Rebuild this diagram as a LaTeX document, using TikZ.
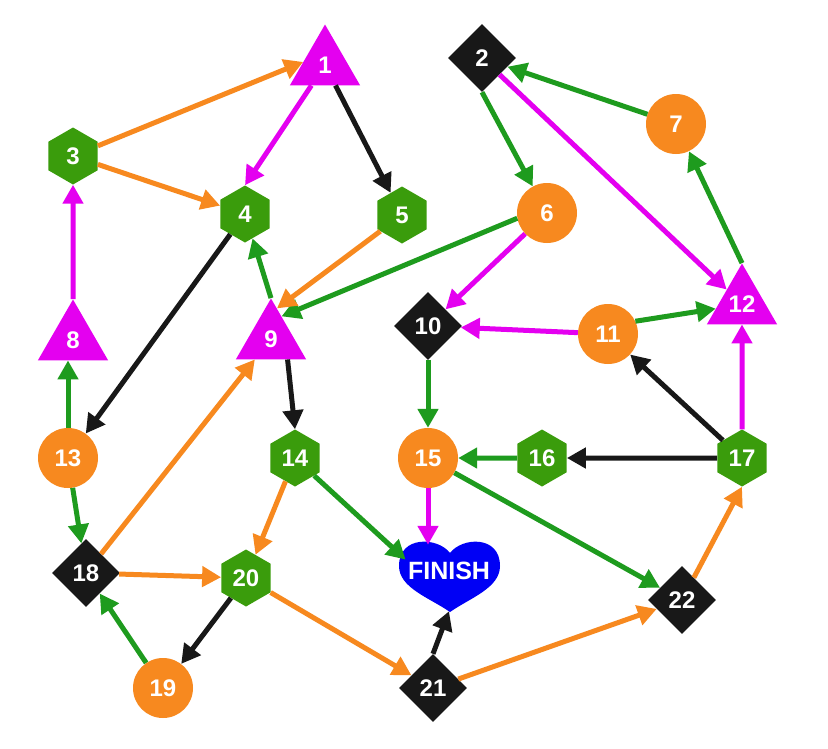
\documentclass[tikz,border=0pt]{standalone}
\usepackage{fontspec}
\setmainfont{Liberation Sans}
\usetikzlibrary{shapes.geometric,arrows.meta}
\definecolor{hexgreen}{RGB}{58,156,12}
\definecolor{linkgreen}{RGB}{30,155,30}
\definecolor{orangeC}{RGB}{247,137,31}
\definecolor{magentaC}{RGB}{228,0,240}
\definecolor{blackC}{RGB}{24,24,24}
\definecolor{heartblue}{RGB}{0,0,245}
\begin{document}
\begin{tikzpicture}[x=1pt,y=-1pt,
  lbl/.style={text=white,font=\bfseries\fontsize{24}{24}\selectfont,inner sep=0pt},
  tri/.style={lbl,regular polygon,regular polygon sides=3,minimum size=81pt,fill=magentaC},
  hexa/.style={lbl,regular polygon,regular polygon sides=6,shape border rotate=30,minimum size=57pt,fill=hexgreen},
  circ/.style={lbl,circle,minimum size=60pt,fill=orangeC},
  dia/.style={lbl,diamond,minimum width=68pt,minimum height=68pt,fill=blackC},
  goal/.style={ellipse,minimum width=104pt,minimum height=66pt,inner sep=0pt},
  link/.style={line width=5pt,-{Triangle[length=19pt,width=20pt]}},
  eg/.style={link,draw=linkgreen},
  eo/.style={link,draw=orangeC},
  em/.style={link,draw=magentaC},
  ek/.style={link,draw=blackC}]
\path[use as bounding box] (0,0) rectangle (828,748);
\fill[white] (0,0) rectangle (828,748);

% nodes
\node[tri]  (n1)  at (325,65)  {1};
\node[dia]  (n2)  at (482,58)  {2};
\node[hexa] (n3)  at (73,156)  {3};
\node[hexa] (n4)  at (245,214) {4};
\node[hexa] (n5)  at (402,215) {5};
\node[circ] (n6)  at (547,213) {6};
\node[circ] (n7)  at (676,124) {7};
\node[tri]  (n8)  at (73,340)  {8};
\node[tri]  (n9)  at (271,339) {9};
\node[dia]  (n10) at (428,326) {10};
\node[circ] (n11) at (608,334) {11};
\node[tri]  (n12) at (742,304) {12};
\node[circ] (n13) at (68,458)  {13};
\node[hexa] (n14) at (295,458) {14};
\node[circ] (n15) at (428,458) {15};
\node[hexa] (n16) at (542,458) {16};
\node[hexa] (n17) at (742,458) {17};
\node[dia]  (n18) at (86,573)  {18};
\node[circ] (n19) at (163,688) {19};
\node[hexa] (n20) at (246,578) {20};
\node[dia]  (n21) at (433,688) {21};
\node[dia]  (n22) at (682,600) {22};

% the heart-shaped goal
\begin{scope}[shift={(449,578)}]
\fill[heartblue] (1,-25) .. controls (13,-41) and (51,-43) .. (51,-12)
  .. controls (51,10) and (21,20) .. (1,34)
  .. controls (-19,20) and (-50,10) .. (-50,-12)
  .. controls (-50,-43) and (-11,-41) .. (1,-25) -- cycle;
\end{scope}
\node[goal,label={[lbl,font=\bfseries\fontsize{25}{25}\selectfont,yshift=7pt]center:FINISH}] (FINISH) at (449,578) {};

% connectors
\draw[eo] (n3) -- (n1.172);
\draw[eo] (n3) -- (n4);
\draw[em] (n1) -- (n4.north);
\draw[ek] (n1) -- (n5);
\draw[eg] (n2.south) -- (n6);
\draw[em] (n2) -- (n12);
\draw[eg] (n7) -- (n2);
\draw[eg] (n12.north) -- (n7);
\draw[eg] (n6.190) -- (n9.65);
\draw[em] (n6) -- (n10);
\draw[eo] (n5) -- (n9.79);
\draw[eg] (n9.north) -- (n4);
\draw[ek] (n4) -- (n13);
\draw[em] (n8) -- (n3);
\draw[eg] (n13) -- (n13 |- n8.south);
\draw[ek] (n9.-51) -- (n14.north);
\draw[em] (n11) -- (n10);
\draw[eg] (n11.25) -- (n12.190);
\draw[eg] (n10) -- (n15);
\draw[ek] (n17) -- (n11);
\draw[em] (n17) -- (n12);
\draw[eg] (n16) -- (n15);
\draw[ek] (n17) -- (n16);
\draw[eg] (n13) -- (n18);
\draw[eo] (n18) -- (n9);
\draw[eo] (n18) -- (n20);
\draw[eo] (n14) -- (n20);
\draw[eg] (n14) -- (FINISH.157);
\draw[em] (n15) -- (n15 |- FINISH.north);
\draw[eg] (n15) -- (n22);
\draw[eo] (n22) -- (n17.south);
\draw[ek] (n20) -- (n19);
\draw[eg] (n19) -- (n18);
\draw[eo] (n20) -- (n21);
\draw[ek] (n21.north) -- (FINISH.south);
\draw[eo] (n21) -- (n22);
\end{tikzpicture}
\end{document}
